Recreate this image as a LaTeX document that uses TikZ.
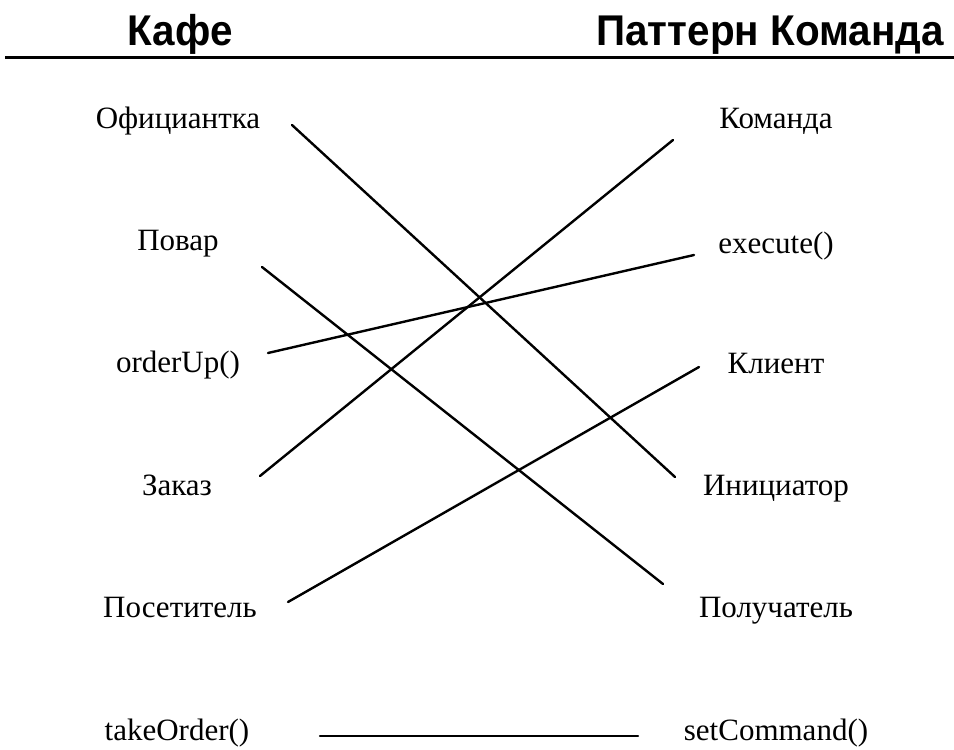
\documentclass[tikz,border=0pt]{standalone}
\usepackage{fontspec}
\setmainfont{Liberation Serif}
\newfontfamily\headfont[FakeStretch=0.94]{Liberation Sans}
\usetikzlibrary{positioning}

\begin{document}
\begin{tikzpicture}[x=1pt, y=-1pt, font=\fontsize{31}{33}\selectfont,
          headbox/.style={font=\headfont\bfseries\fontsize{43}{45}\selectfont, inner sep=0pt, anchor=base},
          itembox/.style={inner sep=0pt, anchor=base},
          link/.style={line width=2.4pt, line cap=round}]
        \useasboundingbox (0,0) rectangle (954,750);

        \node [headbox] (cafe) at (180,45) {Кафе};
        \node [headbox] (pattern) at (770,45) {Паттерн Команда};
        \draw [line width=3pt] (5,57) -- (954,57);

        \node [itembox] (waitress) at (178,128) {Официантка};
        \node [itembox] (cook) at (178,250) {Повар};
        \node [itembox] (orderup) at (178,372) {orderUp()};
        \node [itembox] (order) at (177,495) {Заказ};
        \node [itembox] (customer) at (180,617) {Посетитель};
        \node [itembox] (takeorder) at (177,740) {takeOrder()};

        \node [itembox] (command) at (776,128) {Команда};
        \node [itembox] (execute) at (776,253) {execute()};
        \node [itembox] (client) at (776,373) {Клиент};
        \node [itembox] (invoker) at (776,495) {Инициатор};
        \node [itembox] (receiver) at (776,617) {Получатель};
        \node [itembox] (setcommand) at (776,740) {setCommand()};

        \draw [link] ([shift={(114,-3)}]waitress.base) -- ([shift={(-101,-18)}]invoker.base);
        \draw [link] ([shift={(84,17)}]cook.base) -- ([shift={(-113,-33)}]receiver.base);
        \draw [link] ([shift={(90,-19)}]orderup.base) -- ([shift={(-82,2)}]execute.base);
        \draw [link] ([shift={(83,-19)}]order.base) -- ([shift={(-103,12)}]command.base);
        \draw [link] ([shift={(108,-15)}]customer.base) -- ([shift={(-77,-6)}]client.base);
        \draw [link] ([shift={(143,-4)}]takeorder.base) -- ([shift={(-138,-4)}]setcommand.base);
      \end{tikzpicture}
\end{document}
